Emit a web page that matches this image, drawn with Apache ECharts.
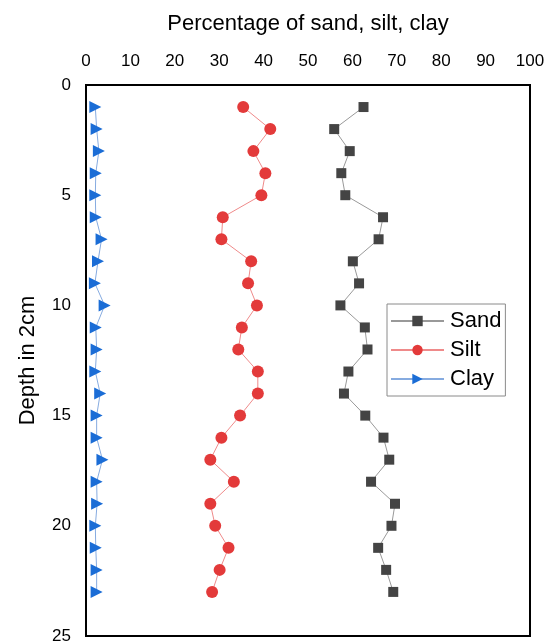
<!DOCTYPE html>
<html>
<head>
<meta charset="utf-8">
<script src="https://cdn.jsdelivr.net/npm/echarts@6/dist/echarts.min.js"></script>
<style>
html,body{margin:0;padding:0;background:#fff;}
#chart{width:554px;height:643px;}
</style>
</head>
<body>
<div id="chart"></div>
<script>
var depths = [1,2,3,4,5,6,7,8,9,10,11,12,13,14,15,16,17,18,19,20,21,22,23];
var sand = [62.5,55.9,59.4,57.5,58.4,66.9,65.9,60.1,61.5,57.3,62.8,63.4,59.1,58.1,62.9,67.0,68.3,64.2,69.6,68.8,65.8,67.6,69.2];
var silt = [35.4,41.5,37.7,40.4,39.5,30.8,30.5,37.2,36.5,38.5,35.1,34.3,38.7,38.7,34.7,30.5,28.0,33.3,28.0,29.1,32.1,30.1,28.4];
var clay = [2.1,2.4,2.9,2.2,2.1,2.2,3.5,2.7,2.0,4.2,2.2,2.4,2.1,3.2,2.4,2.4,3.7,2.4,2.5,2.1,2.2,2.4,2.4];
var xTicks = [0,10,20,30,40,50,60,70,80,90,100];
var yTicks = [0,5,10,15,20,25];

function pairs(vals){ return vals.map(function(v,i){ return [v, depths[i]]; }); }

var font = 'Liberation Sans, Arial, sans-serif';
var chart = echarts.init(document.getElementById('chart'));
chart.setOption({
  animation:false,
  textStyle:{fontFamily:font},
  grid:{left:86,right:24,top:85,bottom:7,show:true,borderColor:'#000',borderWidth:2,backgroundColor:'transparent',
        containLabel:false, outerBoundsMode:'none'},
  legend:{
    orient:'vertical', left:387, top:304,
    backgroundColor:'#fff', borderColor:'#8a8a8a', borderWidth:1,
    padding:[6,4,6,3], itemGap:7, itemWidth:53, itemHeight:13,
    textStyle:{fontSize:22,color:'#000',fontFamily:font, padding:[0,0,0,1]},
    data:['Sand','Silt','Clay']
  },
  xAxis:{
    type:'value', position:'top', min:xTicks[0], max:xTicks[xTicks.length-1], interval:10,
    name:'Percentage of sand, silt, clay', nameLocation:'middle', nameGap:50,
    nameTextStyle:{fontSize:22,color:'#000',fontFamily:font},
    axisLine:{show:true,lineStyle:{color:'#000',width:2}}, axisTick:{show:false},
    splitLine:{show:false},
    axisLabel:{fontSize:17,color:'#000',margin:15,fontFamily:font,
      formatter:function(v){return xTicks.indexOf(v)>=0?String(v):'';}}
  },
  yAxis:{
    type:'value', inverse:true, min:yTicks[0], max:yTicks[yTicks.length-1], interval:5,
    name:'Depth in 2cm', nameLocation:'middle', nameGap:47,
    nameTextStyle:{fontSize:22,color:'#000',fontFamily:font},
    axisLine:{show:true,lineStyle:{color:'#000',width:2}}, axisTick:{show:false},
    splitLine:{show:false},
    axisLabel:{fontSize:17,color:'#000',margin:15,fontFamily:font,
      formatter:function(v){return yTicks.indexOf(v)>=0?String(v):'';}}
  },
  series:[
    {name:'Sand',type:'line',data:pairs(sand),symbol:'rect',symbolSize:10,
     itemStyle:{color:'#444444'},
     lineStyle:{color:'#999999',width:1}},
    {name:'Silt',type:'line',data:pairs(silt),symbol:'circle',symbolSize:12,
     itemStyle:{color:'#e33a3a'},
     lineStyle:{color:'#ef8a8a',width:1}},
    {name:'Clay',type:'line',data:pairs(clay),symbol:'triangle',symbolSize:[12,12],symbolRotate:-90,
     itemStyle:{color:'#1b6dd6'},
     lineStyle:{color:'#86abe0',width:1}}
  ]
});
</script>
</body>
</html>
